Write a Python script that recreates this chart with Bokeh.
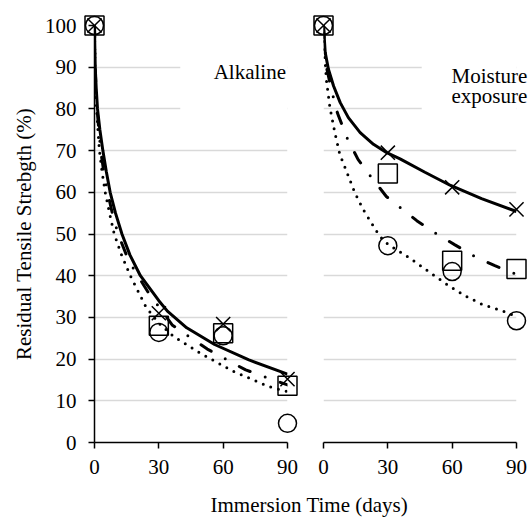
from bokeh.plotting import figure
from bokeh.layouts import column, row
from bokeh.models import Range1d, FixedTicker, BoxAnnotation
from bokeh.core.properties import value
from bokeh.embed import file_html
from bokeh.resources import INLINE

# ---------------- data ----------------
days = [0, 30, 60, 90]
x_ticks = [0, 30, 60, 90]
y_ticks = [0, 10, 20, 30, 40, 50, 60, 70, 80, 90, 100]

# Alkaline panel: measured points
alk_cross = [100, 31.0, 28.4, 15.2]
alk_square = [100, 28.0, 26.2, 13.6]
alk_circle = [100, 26.4, 25.6, 4.6]
# Alkaline panel: trend curves
alk_solid_d = [0, 0.15, 0.35, 0.8, 1.4, 2.5, 3.9, 5.5, 7.3, 9.8, 12.8, 16.5, 21.4, 30, 34, 43, 56, 72, 90]
alk_solid_v = [100, 95, 90, 85, 80, 75, 70, 65, 60, 55, 50, 45, 40, 34, 31.5, 27.5, 23.5, 19.8, 16.4]
alk_dashdot_d = [0, 0.3, 0.7, 1.2, 2.0, 2.9, 4.3, 6.1, 8.3, 11, 16, 24.8, 36.2, 52.6, 70.5, 90]
alk_dashdot_v = [100, 90, 85, 80, 75, 70, 65, 60, 55, 50, 43.5, 36.2, 28.2, 22.4, 17.4, 13.8]
alk_dot_d = [0, 0.2, 0.5, 1.0, 1.6, 2.3, 3.5, 5, 7, 9.2, 12.6, 16.7, 24, 30, 37, 49.4, 65, 81.4, 90]
alk_dot_v = [100, 90, 85, 80, 75, 70, 65, 60, 55, 50, 45, 40, 32.5, 28.6, 25.4, 21.4, 17, 13.4, 12.2]

# Moisture exposure panel: measured points
moi_cross = [100, 69.5, 61.2, 55.9]
moi_square = [100, 64.5, 43.6, 41.6]
moi_circle = [100, 47.2, 41.0, 29.2]
# Moisture exposure panel: trend curves
moi_solid_d = [0, 0.3, 0.8, 2.3, 4.7, 7.8, 11.6, 17.1, 23.3, 29.5, 35.7, 47.3, 59, 73.7, 90]
moi_solid_v = [100, 97.5, 93.5, 89.5, 85.5, 81.5, 77.9, 74.3, 71.5, 69.5, 68.0, 64.8, 61.7, 58.5, 55.4]
moi_dashdot_d = [0, 0.5, 1.6, 3.9, 6.5, 11.2, 16.1, 21.9, 29.3, 35.7, 43.5, 52.8, 61.3, 70.6, 79.9, 90]
moi_dashdot_v = [100, 95, 89.5, 84.2, 79.0, 72.8, 67.9, 63.9, 59.0, 56.4, 53.2, 50.0, 47.4, 44.6, 42.4, 40.3]
moi_dot_d = [0, 0.6, 1.4, 3, 5.3, 7.6, 10.7, 14.6, 18.5, 22.3, 26.2, 30.1, 40.3, 51.2, 59, 66.7, 74.5, 82.2, 90]
moi_dot_v = [100, 92.7, 86.7, 80.3, 74.3, 69.1, 65.1, 59.9, 55.9, 52.7, 49.5, 47.5, 44.2, 40.2, 37.4, 35, 33, 31.8, 30.2]

panel_labels_alk = ["Alkaline"]
panel_labels_moi = ["Moisture", "exposure"]
y_title = "Residual Tensile Strebgth (%)"
x_title = ["Immersion Time (days)"]

FONT = "Liberation Serif"
FS = "21px"
GRID = "#d9d9d9"


def style_axes(p, show_y):
    p.outline_line_color = None
    p.xgrid.visible = False
    p.ygrid.ticker = FixedTicker(ticks=y_ticks)
    p.ygrid.grid_line_color = GRID
    p.ygrid.grid_line_width = 1.5
    p.xaxis.ticker = FixedTicker(ticks=x_ticks)
    axes = list(p.xaxis) + (list(p.yaxis) if show_y else [])
    for ax in axes:
        ax.axis_line_color = "black"
        ax.axis_line_width = 1.5
        ax.major_tick_line_color = "black"
        ax.major_tick_line_width = 1.5
        ax.major_tick_in = 0
        ax.major_tick_out = 6
        ax.minor_tick_line_color = None
        ax.major_label_text_font = FONT
        ax.major_label_text_font_size = FS
        ax.major_label_text_color = "black"
    p.xaxis.major_label_standoff = 11
    if show_y:
        p.yaxis.ticker = FixedTicker(ticks=y_ticks)
        p.yaxis.major_label_standoff = 12
        p.yaxis.axis_label = y_title
        p.yaxis.axis_label_text_font = FONT
        p.yaxis.axis_label_text_font_size = FS
        p.yaxis.axis_label_text_font_style = "normal"
        p.yaxis.axis_label_text_color = "black"
        p.yaxis.axis_label_standoff = 6


def draw_panel(p, solid, dashdot, dot, cross, square, circle):
    p.line(solid[0], solid[1], line_color="black", line_width=3)
    p.line(dashdot[0], dashdot[1], line_color="black", line_width=3,
           line_dash="12 16 0 16", line_cap="round")
    p.line(dot[0], dot[1], line_color="black", line_width=3,
           line_dash="0 8", line_cap="round")
    p.scatter(days, cross, marker="x", size=20, line_color="black", line_width=1.5, level="overlay")
    p.scatter(days, square, marker="square", size=19, line_color="black", line_width=1.5,
              fill_alpha=0, level="overlay")
    p.scatter(days, circle, marker="circle", size=18, line_color="black", line_width=1.5,
              fill_alpha=0, level="overlay")


def panel_text(p, xs, ys, texts, align):
    p.text(xs, ys, text=texts, text_align=align, text_baseline="alphabetic",
           text_font=value(FONT), text_font_size=FS, text_color="black", level="overlay")


common = dict(frame_width=193, frame_height=417, output_backend="svg", toolbar_location=None,
              title=None)

p1 = figure(min_border_left=94, min_border_right=16, min_border_top=25, min_border_bottom=46,
            x_range=Range1d(0, 90), y_range=Range1d(0, 100), **common)
style_axes(p1, True)
draw_panel(p1, (alk_solid_d, alk_solid_v), (alk_dashdot_d, alk_dashdot_v), (alk_dot_d, alk_dot_v),
           alk_cross, alk_square, alk_circle)
p1.add_layout(BoxAnnotation(left=40, right=90, bottom=76, top=95, fill_color="white",
                            fill_alpha=1, line_color=None))
panel_text(p1, [89.3], [88.8], panel_labels_alk, "right")

p2 = figure(min_border_left=20, min_border_right=14, min_border_top=24, min_border_bottom=47,
            y_axis_location=None, x_range=Range1d(0, 90), y_range=Range1d(0, 100), **common)
style_axes(p2, False)
draw_panel(p2, (moi_solid_d, moi_solid_v), (moi_dashdot_d, moi_dashdot_v), (moi_dot_d, moi_dot_v),
           moi_cross, moi_square, moi_circle)
p2.add_layout(BoxAnnotation(left=45.8, right=90, bottom=76, top=95, fill_color="white",
                            fill_alpha=1, line_color=None))
panel_text(p2, [59.7, 59.7], [88.0, 83.0], panel_labels_moi, "left")

p3 = figure(width=530, height=30, x_range=Range1d(0, 530), y_range=Range1d(0, 30),
            x_axis_location=None, y_axis_location=None, min_border=0, title=None,
            output_backend="svg", toolbar_location=None)
p3.outline_line_color = None
p3.grid.visible = False
p3.text([308.8], [13.5], text=x_title, text_align="center", text_baseline="alphabetic",
        text_font=value(FONT), text_font_size=FS, text_color="black", level="overlay")

layout = column(row(p1, p2), p3)
open("out.html", "w").write(file_html(layout, INLINE))
